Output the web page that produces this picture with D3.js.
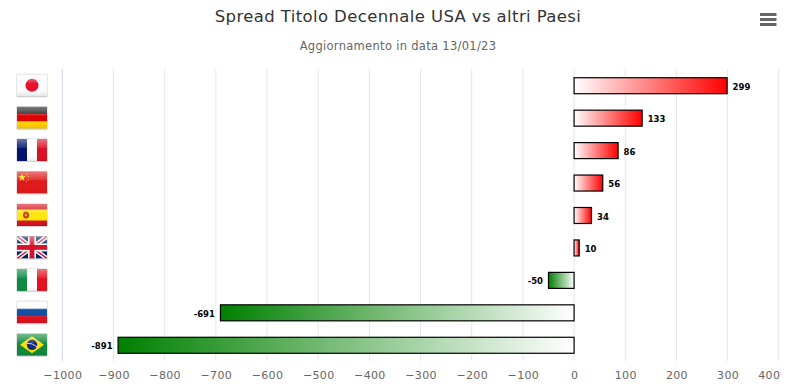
<!DOCTYPE html>
<html><head><meta charset="utf-8">
<script src="https://cdn.jsdelivr.net/npm/d3@7/dist/d3.min.js"></script>
<style>html,body{margin:0;background:#fff}svg{display:block}text{font-family:"DejaVu Sans",sans-serif}</style>
</head><body><svg id="c" width="788" height="384"></svg>
<script>
const countries=["Giappone","Germania","Francia","Cina","Spagna","Regno Unito","Italia","Russia","Brasile"];
const flagCodes=["jp","de","fr","cn","es","gb","it","ru","br"];
const spreads=[299,133,86,56,34,10,-50,-691,-891];
const xTicks=[-1000,-900,-800,-700,-600,-500,-400,-300,-200,-100,0,100,200,300,400];
const titleText="Spread Titolo Decennale USA vs altri Paesi";
const subtitleText="Aggiornamento in data 13/01/23";

const svg=d3.select("#c");
const x=d3.scaleLinear().domain([-1000,400]).range([62.3,778.8]);
const y=d3.scaleBand().domain(countries).range([69.5,361.5]);
const defs=svg.append("defs");
const grad=(id,stops)=>{const g=defs.append("linearGradient").attr("id",id);
  stops.forEach(([o,c])=>g.append("stop").attr("offset",o).attr("stop-color",c));};
grad("pos",[[0,"#fff"],[1,"#f00"]]);
grad("neg",[[0,"#008000"],[1,"#fff"]]);
const gl=defs.append("linearGradient").attr("id","gloss").attr("x1",0).attr("x2",0).attr("y1",0).attr("y2",1);
[[0,"#fff",.42],[.4,"#fff",.1],[.41,"#fff",0],[.8,"#000",0],[1,"#000",.08]].forEach(([o,c,a])=>gl.append("stop").attr("offset",o).attr("stop-color",c).attr("stop-opacity",a));
const cp=defs.append("clipPath").attr("id","fc");cp.append("rect").attr("width",30).attr("height",22);

// Title
svg.append("text").attr("x",398).attr("y",22).attr("text-anchor","middle").attr("font-size",16.5).attr("letter-spacing",.38).attr("fill","#333").text(titleText);
svg.append("text").attr("x",398).attr("y",50).attr("text-anchor","middle").attr("font-size",11.5).attr("letter-spacing",.3).attr("fill","#666").text(subtitleText);

// Menu icon
svg.append("g").selectAll("rect").data([0,1,2]).join("rect").attr("x",760).attr("y",d=>13+d*5).attr("width",16.5).attr("height",3).attr("fill","#666");

// Grid
svg.append("g").selectAll("line").data(xTicks).join("line")
 .attr("x1",d=>x(d)).attr("x2",d=>x(d)).attr("y1",69).attr("y2",361)
 .attr("stroke",d=>d===-1000?"#ccd6eb":"#e6e6e6").attr("stroke-width",1);

// Axis
const ax=svg.append("g").attr("transform","translate(0,361)")
 .call(d3.axisBottom(x).tickValues(xTicks).tickSize(0).tickPadding(10).tickFormat(d=>d<0?"\u2212"+(-d):d));
ax.select(".domain").remove();
ax.selectAll("text").attr("font-size",11).attr("letter-spacing",.35).attr("fill","#666").style("font-family",'"DejaVu Sans",sans-serif')
 .filter(d=>d===xTicks[xTicks.length-1]).attr("text-anchor","end").attr("dx",1);

// Bars
const rows=countries.map((c,i)=>({c,v:spreads[i],f:flagCodes[i]}));
const bh=16;
svg.append("g").selectAll("rect").data(rows).join("rect")
 .attr("x",d=>x(Math.min(0,d.v))).attr("width",d=>Math.abs(x(d.v)-x(0)))
 .attr("y",d=>y(d.c)+y.bandwidth()/2-bh/2).attr("height",bh)
 .attr("fill",d=>d.v>=0?"url(#pos)":"url(#neg)").attr("stroke","#000").attr("stroke-width",1.2);

// Labels
svg.append("g").selectAll("text").data(rows).join("text")
 .attr("x",d=>d.v>=0?x(d.v)+5.5:x(d.v)-5.5)
 .attr("y",d=>y(d.c)+y.bandwidth()/2+4)
 .attr("text-anchor",d=>d.v>=0?"start":"end")
 .attr("font-size",8.5).attr("font-weight","bold").attr("fill","#000")
 .attr("stroke","#fff").attr("stroke-width",1.5).attr("paint-order","stroke").text(d=>d.v);

// Flags
const R=(g,x0,y0,w,h,f)=>g.append("rect").attr("x",x0).attr("y",y0).attr("width",w).attr("height",h).attr("fill",f);
const painters={
 jp:g=>{R(g,0,0,30,22,"#fafafa");g.append("circle").attr("cx",15).attr("cy",11).attr("r",6.5).attr("fill","#e8112d");},
 de:g=>{R(g,0,0,30,7.4,"#222");R(g,0,7.4,30,7.4,"#dd0000");R(g,0,14.8,30,7.2,"#ffce00");},
 fr:g=>{R(g,0,0,10,22,"#00146e");R(g,10,0,10,22,"#fff");R(g,20,0,10,22,"#dc1024");},
 cn:g=>{R(g,0,0,30,22,"#de1a1c");
   g.append("path").attr("d",d3.symbol(d3.symbolStar,20)()).attr("transform","translate(5,6)").attr("fill","#ffde00");
   [[10,2.5],[11.5,5],[11.5,8],[9.5,10]].forEach(([a,b])=>g.append("circle").attr("cx",a).attr("cy",b).attr("r",.6).attr("fill","#ffde00"));},
 es:g=>{R(g,0,0,30,22,"#d8121f");R(g,0,5.5,30,11,"#ffe60a");
   g.append("ellipse").attr("cx",9).attr("cy",11).attr("rx",3).attr("ry",3.6).attr("fill","#c0392b");
   g.append("ellipse").attr("cx",9).attr("cy",11).attr("rx",1.3).attr("ry",1.6).attr("fill","#e9a23b");},
 gb:g=>{R(g,0,0,30,22,"#00206e");
   g.append("path").attr("d","M0 0L30 22M30 0L0 22").attr("stroke","#fff").attr("stroke-width",4.4);
   g.append("path").attr("d","M0 0L30 22M30 0L0 22").attr("stroke","#d8122a").attr("stroke-width",1.4);
   R(g,11,0,8,22,"#fff");R(g,0,7,30,8,"#fff");R(g,12.6,0,4.8,22,"#d8122a");R(g,0,8.6,30,4.8,"#d8122a");},
 it:g=>{R(g,0,0,10,22,"#0d8c45");R(g,10,0,10,22,"#fff");R(g,20,0,10,22,"#e4121f");},
 ru:g=>{R(g,0,0,30,7.4,"#fff");R(g,0,7.4,30,7.4,"#1450a8");R(g,0,14.8,30,7.2,"#dd1220");},
 br:g=>{R(g,0,0,30,22,"#0f8a3c");g.append("path").attr("d","M15 2.5L27 11L15 19.5L3 11Z").attr("fill","#ffdf00");
   g.append("circle").attr("cx",15).attr("cy",11).attr("r",5.2).attr("fill","#14287a");
   g.append("path").attr("d","M10 9.5Q15 9 20 13").attr("stroke","#fff").attr("stroke-width",.8).attr("fill","none");}
};
const fg=svg.append("g").selectAll("g").data(rows).join("g")
 .attr("transform",d=>`translate(17,${y(d.c)+y.bandwidth()/2-11.5})`);
fg.append("rect").attr("x",-.5).attr("y",-.5).attr("width",31).attr("height",23.5).attr("rx",1).attr("fill","#bbb").attr("opacity",.7);
fg.each(function(d){const g=d3.select(this).append("g").attr("clip-path","url(#fc)");painters[d.f](g);
  g.append("rect").attr("width",30).attr("height",22).attr("fill","url(#gloss)");});
</script></body></html>
